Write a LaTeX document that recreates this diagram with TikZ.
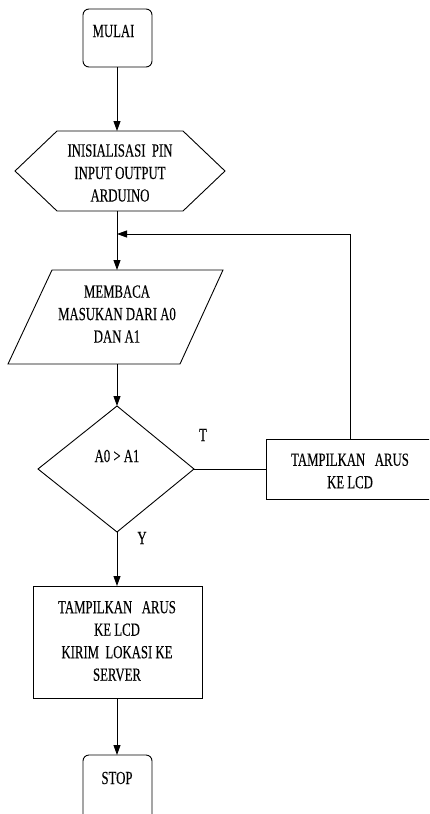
\documentclass[tikz,border=0pt]{standalone}
\usepackage{fontspec}
\setmainfont{Liberation Serif}[FakeStretch=0.69,FakeBold=0.15]
\usetikzlibrary{arrows.meta}
\tikzset{
  flow/.style={line width=0.9pt, draw=black},
  arr/.style={flow, -{Triangle[width=7pt,length=10pt]}},
  txt/.style={font=\fontsize{18.5}{22.5}\selectfont, align=center, inner sep=0pt},
  term/.style={flow, rounded corners=6pt},
}
\begin{document}
\begin{tikzpicture}[x=1pt,y=-1pt]
  \clip (0,0) rectangle (429,814);
  \fill[white] (0,0) rectangle (429,814);

  % terminator MULAI
  \draw[term] (83,9) rectangle (152,67);
  \coordinate (start-s) at (117,67);
  \node[txt] (start-t) at (113.5,31) {MULAI};

  % preparation hexagon
  \draw[flow] (15,171) -- (57,131) -- (183,131) -- (225,171) -- (183,211) -- (57,211) -- cycle;
  \coordinate (init-n) at (117,131);
  \coordinate (init-s) at (117,211);
  \node[txt] (init-t) at (120,173) {INISIALISASI~~PIN\\INPUT OUTPUT\\ARDUINO};

  % input parallelogram
  \draw[flow] (52,270) -- (223,270) -- (180,364) -- (8,364) -- cycle;
  \coordinate (read-n) at (117,270);
  \coordinate (read-s) at (117,364);
  \node[txt] (read-t) at (117,314) {MEMBACA\\MASUKAN DARI A0\\DAN A1};

  % decision diamond
  \draw[flow] (117,406) -- (194,469) -- (117,532) -- (38,469) -- cycle;
  \coordinate (dec-n) at (117,406);
  \coordinate (dec-e) at (194,469);
  \coordinate (dec-s) at (117,532);
  \node[txt] (dec-t) at (117,456) {A0 > A1};
  \node[txt] (lbl-t) at (203,435) {T};
  \node[txt] (lbl-y) at (142,538) {Y};

  % process box on the T branch
  \draw[flow] (266,439) rectangle (440,499);
  \coordinate (show-w) at (266,469);
  \coordinate (show-n) at (350,439);
  \node[txt] (show-t) at (350,471) {TAMPILKAN~~~ARUS\\KE LCD};

  % process box on the Y branch
  \draw[flow] (33,586) rectangle (202,698);
  \coordinate (send-n) at (117,586);
  \coordinate (send-s) at (117,698);
  \node[txt] (send-t) at (117,641) {TAMPILKAN~~~ARUS\\KE LCD\\KIRIM~~LOKASI KE\\SERVER};

  % terminator STOP
  \draw[term] (83,755) rectangle (152,840);
  \coordinate (stop-n) at (117,755);
  \node[txt] (stop-t) at (117,778) {STOP};

  % connectors
  \coordinate (loop) at (117,234);
  \coordinate (loop-r) at (350,234);
  \draw[arr] (start-s) -- (init-n);
  \draw[arr] (init-s) -- (read-n);
  \draw[arr] (show-n) -- (loop-r) -- (loop);
  \draw[arr] (read-s) -- (dec-n);
  \draw[flow] (dec-e) -- (show-w);
  \draw[arr] (dec-s) -- (send-n);
  \draw[arr] (send-s) -- (stop-n);
\end{tikzpicture}
\end{document}
